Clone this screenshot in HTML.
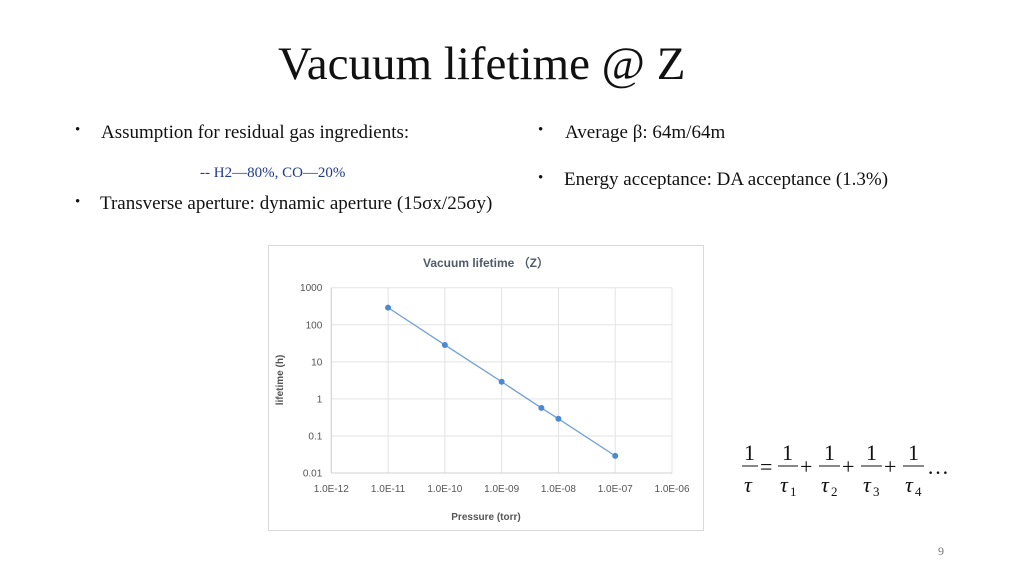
<!DOCTYPE html>
<html><head><meta charset="utf-8"><style>
body{margin:0;width:1024px;height:576px;background:#fff;position:relative;overflow:hidden;font-family:"Liberation Serif",serif;color:#111}
.t{position:absolute;white-space:nowrap}
.b{font-size:19px}
</style></head><body>
<div class="t" style="left:278px;top:37px;font-size:47px;">Vacuum lifetime @ Z</div>
<div class="t b" style="left:75px;top:122px;font-size:15px;">•</div>
<div class="t b" style="left:101px;top:122px;">Assumption for residual gas ingredients:</div>
<div class="t" style="left:200px;top:165px;font-size:15px;color:#1f3a8a;">-- H2—80%, CO—20%</div>
<div class="t b" style="left:75px;top:194px;font-size:15px;">•</div>
<div class="t b" style="left:100px;top:193px;">Transverse aperture: dynamic aperture (15σx/25σy)</div>
<div class="t b" style="left:538px;top:122px;font-size:15px;">•</div>
<div class="t b" style="left:565px;top:122px;">Average β: 64m/64m</div>
<div class="t b" style="left:538px;top:170px;font-size:15px;">•</div>
<div class="t b" style="left:564px;top:169px;">Energy acceptance: DA acceptance (1.3%)</div>
<div class="t" style="left:938px;top:544px;font-size:12px;color:#777;">9</div>

<svg style="position:absolute;left:730px;top:430px" width="230" height="75" font-family="Liberation Serif" font-size="22">
<g fill="#111">
<text x="14" y="30">1</text><line x1="12" y1="36" x2="28" y2="36" stroke="#111"/><text x="14" y="62" font-style="italic">τ</text>
<text x="30" y="44">=</text>
<text x="52" y="30">1</text><line x1="48" y1="36" x2="68" y2="36" stroke="#111"/><text x="50" y="62" font-style="italic">τ</text><text x="60" y="66" font-size="13">1</text>
<text x="70" y="44">+</text>
<text x="94" y="30">1</text><line x1="89" y1="36" x2="110" y2="36" stroke="#111"/><text x="91" y="62" font-style="italic">τ</text><text x="101" y="66" font-size="13">2</text>
<text x="112" y="44">+</text>
<text x="136" y="30">1</text><line x1="131" y1="36" x2="152" y2="36" stroke="#111"/><text x="133" y="62" font-style="italic">τ</text><text x="143" y="66" font-size="13">3</text>
<text x="154" y="44">+</text>
<text x="178" y="30">1</text><line x1="173" y1="36" x2="194" y2="36" stroke="#111"/><text x="175" y="62" font-style="italic">τ</text><text x="185" y="66" font-size="13">4</text>
<text x="197" y="44">…</text>
</g></svg>

<svg id="chart" style="position:absolute;left:268px;top:245px" width="436" height="286" font-family="Liberation Sans, sans-serif"></svg>
<script>
const pressures=[1e-11,1e-10,1e-9,5e-9,1e-8,1e-7];
const lifetimes=[290,28.5,2.9,0.57,0.29,0.029];
const xTickLabels=["1.0E-12","1.0E-11","1.0E-10","1.0E-09","1.0E-08","1.0E-07","1.0E-06"];
const xTickValues=[1e-12,1e-11,1e-10,1e-9,1e-8,1e-7,1e-6];
const yTickLabels=["0.01","0.1","1","10","100","1000"];
const yTickValues=[0.01,0.1,1,10,100,1000];

const svg=document.getElementById('chart');
const NS='http://www.w3.org/2000/svg';
const L=63.3,R=404,T=42.7,B=228;
const xs=v=>L+(Math.log10(v)+12)/6*(R-L);
const ys=v=>B-(Math.log10(v)+2)/5*(B-T);
function mk(tag,attrs,name,txt){const e=document.createElementNS(NS,tag);for(const k in attrs)e.setAttribute(k,attrs[k]);


if(txt!==undefined)e.textContent=txt;svg.appendChild(e);return e;}
mk('rect',{x:0.5,y:0.5,width:435,height:285,fill:'#fff',stroke:'#d9d9d9'},'chart-frame');
mk('text',{x:218,y:22,'text-anchor':'middle','font-size':12,'font-weight':'bold',fill:'#505a6a'},'chart-title','Vacuum lifetime （Z）');
yTickValues.forEach((v,i)=>{const y=ys(v);
mk('line',{x1:L,x2:R,y1:y,y2:y,stroke:'#e3e3e3'},'y-gridline');
mk('text',{x:L-9,y:y+3.5,'text-anchor':'end','font-size':10,fill:'#555'},'y-tick-label',yTickLabels[i]);});
xTickValues.forEach((v,i)=>{const x=xs(v);
mk('line',{x1:x,x2:x,y1:T,y2:B,stroke:'#e3e3e3'},'x-gridline');
mk('text',{x:x,y:B+19,'text-anchor':'middle','font-size':10,fill:'#555'},'x-tick-label',xTickLabels[i]);});
mk('line',{x1:L,x2:R,y1:B,y2:B,stroke:'#d0d0d0'},'x-axis');
mk('line',{x1:L,x2:L,y1:T,y2:B,stroke:'#d0d0d0'},'y-axis');
mk('text',{x:218,y:275,'text-anchor':'middle','font-size':10,'font-weight':'bold',fill:'#555'},'x-axis-title','Pressure (torr)');
mk('text',{x:15,y:135,'text-anchor':'middle','font-size':10,'font-weight':'bold',fill:'#555',transform:'rotate(-90 15 135)'},'y-axis-title','lifetime (h)');
mk('polyline',{points:pressures.map((p,i)=>xs(p)+','+ys(lifetimes[i])).join(' '),fill:'none',stroke:'#6fa0d8','stroke-width':1.3},'series-line');
pressures.forEach((p,i)=>mk('circle',{cx:xs(p),cy:ys(lifetimes[i]),r:3,fill:'#4a8ad4'},'data-point'));
</script>
</body></html>
